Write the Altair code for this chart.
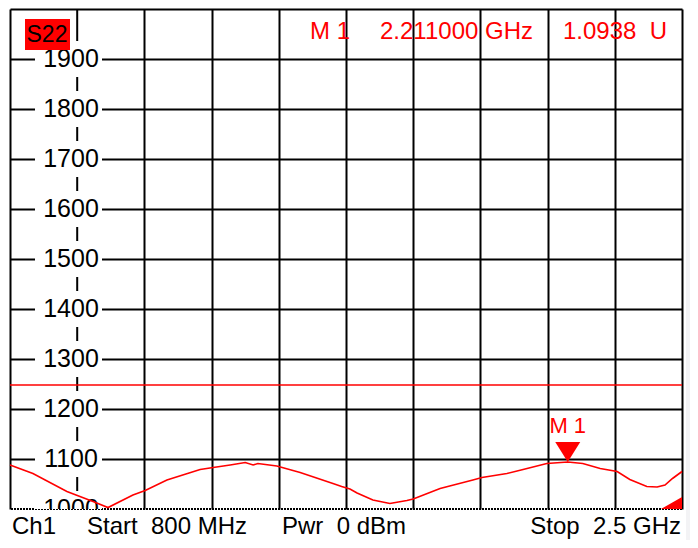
import altair as alt
import pandas as pd

# ---- data ----
freq_ghz = [0.800, 0.858, 0.944, 1.010, 1.048, 1.111, 1.142, 1.197, 1.281, 1.314,
            1.357, 1.395, 1.415, 1.427, 1.475, 1.534, 1.617, 1.639, 1.660, 1.678,
            1.718, 1.761, 1.804, 1.820, 1.888, 1.971, 1.994, 2.057, 2.098, 2.158,
            2.211, 2.249, 2.293, 2.336, 2.368, 2.411, 2.437, 2.457, 2.476, 2.500]
s22_vals = [1088, 1071, 1035, 1015, 1003, 1028, 1037, 1058, 1079, 1083,
            1088, 1093, 1088, 1091, 1086, 1073, 1051, 1045, 1040, 1032,
            1018, 1011, 1017, 1020, 1041, 1058, 1063, 1071, 1079, 1091,
            1094, 1091, 1081, 1075, 1059, 1045, 1044, 1048, 1061, 1075]

y_tick_labels = [1000, 1100, 1200, 1300, 1400, 1500, 1600, 1700, 1800, 1900]
y_grid = [1100, 1200, 1300, 1400, 1500, 1600, 1700, 1800, 1900, 2000]
x_grid_ghz = [0.80, 1.14, 1.31, 1.48, 1.65, 1.82, 1.99, 2.16, 2.33, 2.50]
center_col_ghz = 0.97
x_domain = [0.8, 2.5]
y_domain = [1000, 2000]
limit_value = 1248
marker_f = 2.211
marker_v = 1093.8

FONT = "Liberation Sans"
RED = "#ff0000"

xs = alt.Scale(domain=x_domain, nice=False, zero=False)
ys = alt.Scale(domain=y_domain, nice=False, zero=False)
one = pd.DataFrame({"k": [0]})

grid_axis = dict(grid=True, gridColor="black", gridWidth=2, gridOpacity=1,
                 labels=False, ticks=False, domain=False, title=None)

trace_df = pd.DataFrame({"f": freq_ghz, "v": s22_vals})
trace = alt.Chart(trace_df).mark_line(color=RED, strokeWidth=1.6).encode(
    x=alt.X("f:Q", scale=xs, axis=alt.Axis(values=x_grid_ghz, **grid_axis)),
    y=alt.Y("v:Q", scale=ys, axis=alt.Axis(values=y_grid, **grid_axis)),
)

bottom_line = alt.Chart(one).mark_rule(color="black", strokeWidth=2, strokeDash=[2, 1]).encode(
    y=alt.datum(1000))
center_col = alt.Chart(one).mark_rule(color="black", strokeWidth=2).encode(
    x=alt.datum(center_col_ghz))

lbl_df = pd.DataFrame({"v": y_tick_labels})
lbl_bg = alt.Chart(lbl_df).mark_rect(color="white", clip=True).transform_calculate(
    lo="datum.v - 36", hi="datum.v + 36").encode(
    x=alt.value(25), x2=alt.value(92), y=alt.Y("lo:Q"), y2="hi:Q")
lbl_txt = alt.Chart(lbl_df).mark_text(font=FONT, fontSize=25, color="black", clip=True,
                                      align="center", baseline="middle").encode(
    x=alt.value(61), y=alt.Y("v:Q"), text=alt.Text("v:Q", format="d"))

limit = alt.Chart(one).mark_rule(color=RED, strokeWidth=1.5).encode(y=alt.datum(limit_value))

mk_df = pd.DataFrame({"f": [marker_f], "v": [marker_v]})
mk_tri = alt.Chart(mk_df).mark_point(shape="M -1 -1.6 L 1 -1.6 L 0 0 Z", size=625, filled=True,
                                     color=RED, opacity=1, strokeWidth=0).encode(x="f:Q", y="v:Q")
mk_txt = alt.Chart(mk_df).mark_text(text="M 1", dy=-36, font=FONT, fontSize=22, color=RED).encode(
    x="f:Q", y="v:Q")

corner = alt.Chart(one).mark_point(shape="M -1.75 0 L 0 0 L 0 -1 Z", size=576, filled=True,
                                   color=RED, opacity=1, strokeWidth=0).encode(
    x=alt.datum(2.5), y=alt.datum(1000))


def label(text, x, y, color, size=24, align="left", baseline="middle"):
    return alt.Chart(one).mark_text(text=text, font=FONT, fontSize=size, color=color,
                                    align=align, baseline=baseline).encode(
        x=alt.value(x), y=alt.value(y))


s22_box = alt.Chart(one).mark_rect(color=RED).encode(
    x=alt.value(15), x2=alt.value(60), y=alt.value(10), y2=alt.value(41))

BOT = 525
texts = [
    label("S22", 37, 26, "black", 23, "center"),
    label("M 1", 300, 23, RED),
    label(f"{marker_f:.6f}\u00a0GHz", 370, 23, RED),
    label(f"{marker_v / 1000:.4f}\u00a0\u00a0U", 553, 23, RED),
    label("Ch1", 2, BOT, "black", baseline="alphabetic"),
    label("Start\u00a0\u00a0800\u00a0MHz", 77, BOT, "black", baseline="alphabetic"),
    label("Pwr\u00a0\u00a00\u00a0dBm", 272, BOT, "black", baseline="alphabetic"),
    label("Stop\u00a0\u00a02.5\u00a0GHz", 671, BOT, "black", align="right", baseline="alphabetic"),
]

side = alt.Chart(one).mark_rect(color="#f3f3f5").encode(
    x=alt.value(676), x2=alt.value(682), y=alt.value(131), y2=alt.value(545))

chart = alt.layer(
    side, bottom_line, center_col, lbl_bg, lbl_txt, limit, trace, mk_tri, mk_txt, corner,
    s22_box, *texts
).properties(
    width=672, height=500,
    padding={"left": 2, "top": 1, "right": 8, "bottom": 31},
    autosize=alt.AutoSizeParams(type="none"),
    background="white",
).configure_view(stroke=None)

chart.save("out.html", embed_options={"renderer": "svg", "actions": False})
